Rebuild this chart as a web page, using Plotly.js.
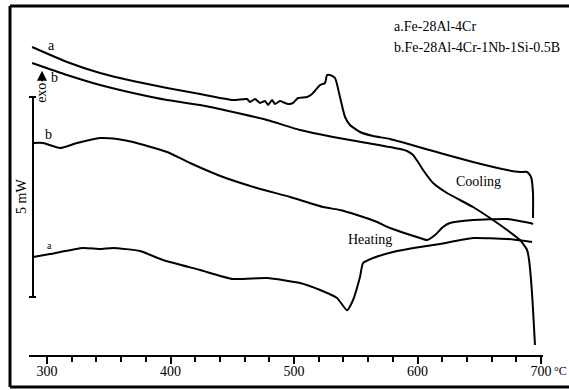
<!DOCTYPE html>
<html>
<head>
<meta charset="utf-8">
<script src="https://cdn.plot.ly/plotly-3.0.1.min.js"></script>
<style>html,body{margin:0;padding:0;background:#fff;}#chart{width:569px;height:390px;}</style>
</head>
<body>
<div id="chart"></div>
<script>
// Temperatures (°C) and heat flow (mW, offset so the 5 mW scale bar spans 0..5)
var coolA_T = [287.9,316.2,342.9,369.6,397.2,423.9,450.6,461.9,464.4,468.4,472.5,476.5,479,482.2,484.6,488.7,492.7,495.1,499.2,503.2,510.5,514.6,521.1,525.1,526.7,529.1,533.2,537.2,541.3,545.3,553.4,564,577.7,618.2,644.9,672.5,683,688.7,691.9,693.5,693.5];
var coolA_Q = [6.25,5.875,5.6,5.4,5.225,5.075,4.925,4.95,4.875,4.95,4.85,4.9,4.8,4.925,4.825,4.9,4.85,4.825,4.85,4.975,5.0,5.075,5.3,5.35,5.55,5.55,5.475,5.0,4.5,4.3,4.125,4.025,3.95,3.6,3.375,3.175,3.125,3.125,3.0,2.6,1.975];

var coolB_T = [287.9,316.2,342.9,369.6,397.2,423.9,450.6,478.1,504.9,531.6,559.1,585.8,591.5,596.4,600.4,604.5,612.6,623.9,644.9,658.7,672.5,683,688.7,690.3,692.7,694.3,695.1];
var coolB_Q = [5.85,5.55,5.3,5.1,4.925,4.8,4.625,4.425,4.175,4.0,3.85,3.7,3.65,3.55,3.375,3.175,2.85,2.6,2.25,1.975,1.675,1.425,1.175,0.925,0.1,-0.75,-1.2];

var heatB_T = [288.7,296.8,310.5,324.3,342.9,356.7,369.6,397.2,415.8,442.5,470,496.8,523.5,537.2,551,567.2,577.7,602,607.7,614.2,620.6,626.3,644.9,672.5,691.1,693.5];
var heatB_Q = [3.85,3.85,3.725,3.85,3.975,3.95,3.875,3.625,3.35,3.0,2.725,2.5,2.25,2.175,2.05,1.875,1.725,1.475,1.425,1.55,1.75,1.85,1.925,1.95,1.85,1.825];

var heatA_T = [288.7,302.4,329.1,342.9,353.4,375.3,393.9,423.9,450.6,478.1,504.9,521.1,534.8,542.9,547.8,553.4,555.9,564,580.2,602,618.2,644.9,672.5,692.7];
var heatA_Q = [1.0,1.075,1.225,1.2,1.225,1.15,0.925,0.675,0.45,0.475,0.35,0.175,-0.025,-0.33,-0.075,0.5,0.85,0.975,1.125,1.25,1.325,1.475,1.45,1.375];

var tickVals = [300,400,500,600,700];
var tickText = ['300','400','500','600','700'];
var legendLines = ['a.Fe-28Al-4Cr','b.Fe-28Al-4Cr-1Nb-1Si-0.5B'];

var FONT = 'Liberation Serif, Times New Roman, serif';
function line(x, y) {
  return {x: x, y: y, mode: 'lines', type: 'scatter', hoverinfo: 'skip',
          line: {color: '#000', width: 2, shape: 'spline', smoothing: 0.5}};
}
var data = [line(coolA_T, coolA_Q), line(coolB_T, coolB_Q), line(heatB_T, heatB_Q), line(heatA_T, heatA_Q)];

function txt(x, y, t, opts) {
  var a = {x: x, y: y, text: t, showarrow: false, font: {family: FONT, size: 14, color: '#000'}, xref: 'x', yref: 'y'};
  for (var k in opts) a[k] = opts[k];
  return a;
}
function ptxt(x, y, t, opts) {
  var a = {x: x, y: y, text: t, showarrow: false, font: {family: FONT, size: 14, color: '#000'}, xref: 'paper', yref: 'paper', xanchor: 'center', yanchor: 'middle'};
  for (var k in opts) a[k] = opts[k];
  return a;
}

var layout = {
  width: 569, height: 390,
  margin: {l: 10, r: 0, t: 6, b: 3},
  paper_bgcolor: '#fff', plot_bgcolor: 'rgba(0,0,0,0)',
  showlegend: false,
  xaxis: {
    domain: [0.034, 0.9535], range: [285.4, 701.6],
    anchor: 'free', position: 0.0814,
    showline: true, linecolor: '#000', linewidth: 2,
    showgrid: false, zeroline: false,
    tickmode: 'array', tickvals: tickVals, ticktext: tickText,
    ticks: 'outside', ticklen: 7, tickwidth: 2, tickcolor: '#000',
    ticklabelstandoff: -5,
    minor: {dtick: 20, tick0: 300, ticks: 'outside', ticklen: 5, tickwidth: 2, tickcolor: '#000', showgrid: false},
    tickfont: {family: FONT, size: 14, color: '#000'}
  },
  yaxis: {range: [-2.25, 7.275], visible: false, showgrid: false, zeroline: false},
  shapes: [
    // frame (left, top, bottom)
    {type: 'line', xref: 'paper', yref: 'paper', x0: 0, x1: 0, y0: 0, y1: 1, line: {color: '#000', width: 3}},
    {type: 'line', xref: 'paper', yref: 'paper', x0: 0, x1: 1.02, y0: 1, y1: 1, line: {color: '#000', width: 3}},
    {type: 'line', xref: 'paper', yref: 'paper', x0: 0, x1: 1.02, y0: 0, y1: 0, line: {color: '#000', width: 3}},
    // 5 mW scale bar
    {type: 'line', xref: 'paper', yref: 'y', x0: 0.0411, x1: 0.0411, y0: 0, y1: 5, line: {color: '#000', width: 2}},
    {type: 'line', xref: 'paper', yref: 'y', x0: 0.0340, x1: 0.0465, y0: 5, y1: 5, line: {color: '#000', width: 2}},
    {type: 'line', xref: 'paper', yref: 'y', x0: 0.0340, x1: 0.0465, y0: 0, y1: 0, line: {color: '#000', width: 2}}
  ],
  annotations: [
    txt(304, 6.3, 'a'),
    txt(305.7, 5.5, 'b'),
    txt(300.8, 4.07, 'b'),
    txt(301.6, 1.28, 'a', {font: {family: FONT, size: 10, color: '#000'}}),
    txt(649, 2.9, 'Cooling'),
    txt(561.5, 1.45, 'Heating'),
    ptxt(0.683, 0.945, legendLines[0], {xanchor: 'left'}),
    ptxt(0.683, 0.892, legendLines[1], {xanchor: 'left'}),
    ptxt(0.0215, 0.4987, '5 mW', {textangle: -90}),
    ptxt(0.0572, 0.772, 'exo', {textangle: -90}),
    {xref: 'paper', yref: 'paper', x: 0.0572, y: 0.83, text: '', showarrow: true, ax: 0, ay: 12, arrowhead: 2, arrowsize: 1, arrowwidth: 2, arrowcolor: '#000'},
    ptxt(0.9696, 0.042, '°C', {xanchor: 'left', font: {family: FONT, size: 12, color: '#000'}})
  ]
};

Plotly.newPlot('chart', data, layout, {staticPlot: true, displayModeBar: false});
</script>
</body>
</html>
